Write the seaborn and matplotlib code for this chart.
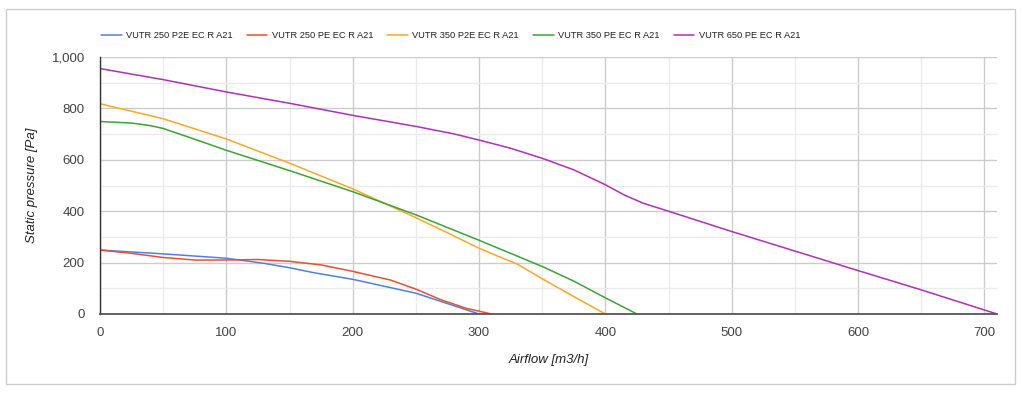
import matplotlib
matplotlib.use("Agg")
import matplotlib.pyplot as plt
import matplotlib.ticker as mticker
import numpy as np
import pandas as pd
import seaborn as sns

# curve data
models = ["VUTR 250 P2E EC R A21", "VUTR 250 PE EC R A21", "VUTR 350 P2E EC R A21",
          "VUTR 350 PE EC R A21", "VUTR 650 PE EC R A21"]

blue_x = [0, 50, 100, 130, 150, 170, 200, 250, 300]
blue_y = [249, 234, 217, 197, 180, 160, 135, 81, 0]

red_x = [0, 25, 50, 75, 100, 125, 150, 175, 200, 230, 250, 270, 290, 310]
red_y = [249, 236, 220, 210, 210, 212, 205, 191, 166, 132, 97, 55, 22, 0]

orange_x = [0, 50, 100, 150, 200, 250, 275, 300, 315, 330, 350, 375, 400]
orange_y = [818, 760, 681, 587, 487, 375, 316, 256, 225, 195, 137, 68, 0]

green_x = [0, 25, 40, 50, 75, 100, 150, 200, 250, 300, 350, 375, 400, 425]
green_y = [749, 743, 733, 722, 680, 637, 558, 476, 386, 287, 185, 128, 63, 0]

purple_x = [0, 50, 100, 150, 200, 250, 280, 300, 325, 350, 375, 400, 415, 430, 450,
            500, 550, 600, 650, 710]
purple_y = [955, 912, 864, 820, 773, 730, 701, 677, 645, 606, 561, 503, 463, 431, 400,
            321, 245, 169, 94, 0]

colors = ["#4f82e0", "#e8502f", "#ffa726", "#3da336", "#b030b8"]

frames = []
for name, xs, ys in zip(models, [blue_x, red_x, orange_x, green_x, purple_x],
                        [blue_y, red_y, orange_y, green_y, purple_y]):
    frames.append(pd.DataFrame({"Airflow": xs, "Pressure": ys, "Model": name}))
df = pd.concat(frames, ignore_index=True)

sns.set_style("white")
plt.rcParams["font.family"] = ["Liberation Sans", "DejaVu Sans"]

fig = plt.figure(figsize=(10.21, 3.94), dpi=100)
ax = fig.add_axes([100 / 1021, 1 - 314 / 394, 897 / 1021, 257 / 394])

sns.lineplot(data=df, x="Airflow", y="Pressure", hue="Model", palette=colors,
             sort=False, estimator=None, linewidth=1.1, ax=ax)

ax.set_xlim(0, 710)
ax.set_ylim(0, 1000)
ax.xaxis.set_major_locator(mticker.MultipleLocator(100))
ax.xaxis.set_minor_locator(mticker.MultipleLocator(50))
ax.yaxis.set_major_locator(mticker.MultipleLocator(200))
ax.yaxis.set_minor_locator(mticker.MultipleLocator(100))
ax.yaxis.set_major_formatter(mticker.StrMethodFormatter("{x:,.0f}"))
ax.grid(which="major", color="#cccccc", linewidth=1)
ax.grid(which="minor", color="#ebebeb", linewidth=1)
ax.set_axisbelow(True)
ax.tick_params(which="both", length=0, labelsize=9.5, colors="#444444")
ax.tick_params(axis="x", pad=9)
ax.tick_params(axis="y", pad=11)

for side in ["top", "right"]:
    ax.spines[side].set_visible(False)
ax.spines["left"].set_color("#333333")
ax.spines["left"].set_linewidth(1)
ax.spines["bottom"].set_color("#555555")
ax.spines["bottom"].set_linewidth(1.3)

ax.set_xlabel("Airflow [m3/h]", fontsize=9.5, style="italic", color="#222222", labelpad=11)
ax.set_ylabel("Static pressure [Pa]", fontsize=9.5, style="italic", color="#222222", labelpad=10)

leg = ax.legend(loc="lower left", bbox_to_anchor=(-0.003, 1.05), ncol=5, frameon=False,
                fontsize=6.7, handlelength=2.2, handletextpad=0.5, columnspacing=1.5,
                borderaxespad=0)
for t in leg.get_texts():
    t.set_color("#222222")

border = plt.Rectangle((6 / 1021, 1 - 384 / 394), 1009 / 1021, 375 / 394,
                       transform=fig.transFigure, fill=False, edgecolor="#cccccc",
                       linewidth=1)
fig.patches.append(border)

fig.savefig("out.png", dpi=100)
